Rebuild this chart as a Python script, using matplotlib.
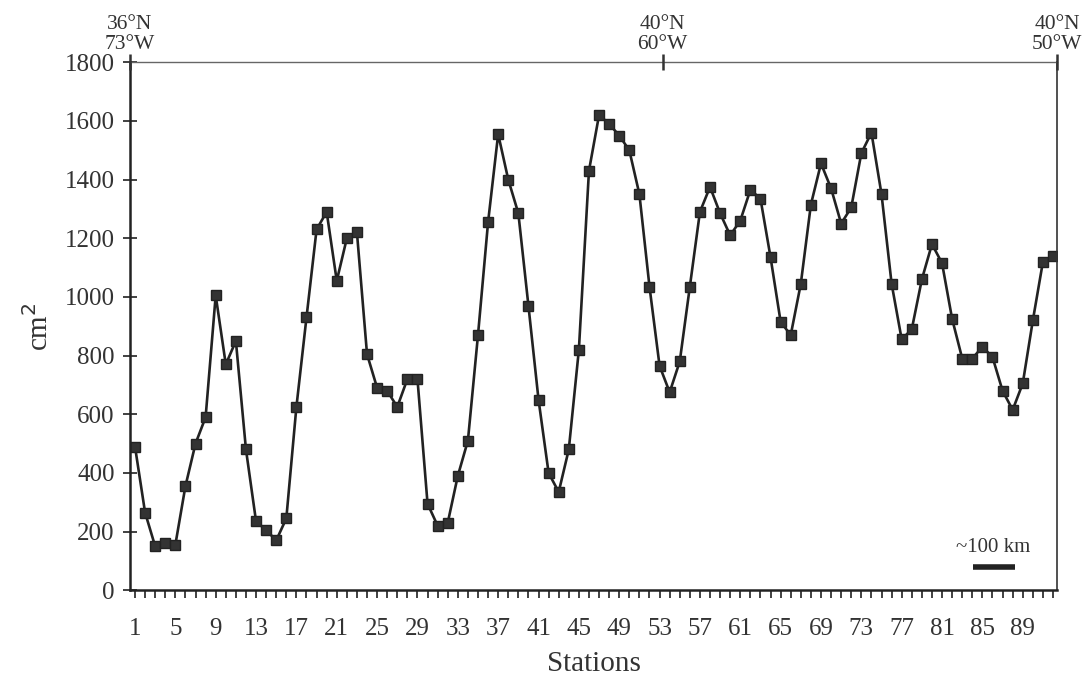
import numpy as np
import matplotlib
import matplotlib.pyplot as plt
matplotlib.use("Agg")

plt.rcParams["font.family"] = ["Liberation Serif", "DejaVu Serif"]

stations = np.arange(1, 93)
cm2 = [490, 265, 150, 160, 155, 355, 500, 590, 1005, 770,
       850, 480, 235, 205, 170, 245, 625, 930, 1230, 1290,
       1055, 1200, 1220, 805, 690, 680, 625, 720, 720, 295,
       220, 230, 390, 510, 870, 1255, 1555, 1400, 1285, 970,
       650, 400, 335, 480, 820, 1430, 1620, 1590, 1550, 1500,
       1350, 1035, 765, 675, 780, 1035, 1290, 1375, 1285, 1210,
       1260, 1365, 1335, 1135, 915, 870, 1045, 1315, 1455, 1370,
       1250, 1305, 1490, 1560, 1350, 1045, 855, 890, 1060, 1180,
       1115, 925, 790, 790, 830, 795, 680, 615, 705, 920,
       1120, 1140]
x_labels = list(range(1, 90, 4))
top_pos = [0.5, 53.3, 92.4]
top_labels = ["36°N\n73°W", "40°N\n60°W", "40°N\n50°W"]

fig = plt.figure(figsize=(10.92, 6.84), dpi=100)
ax = fig.add_axes([0.119, 0.137, 0.849, 0.772])

ax.plot(stations, cm2, color="#222222", lw=1.9, marker="s", ms=7,
        mec="#222222", mfc="#333333")

ax.set_xlim(0.5, 92.4)
ax.set_ylim(0, 1800)
ax.set_yticks(range(0, 1801, 200))
ax.set_xticks(x_labels)
ax.set_xticks(stations, minor=True)
ax.tick_params(axis="x", which="both", direction="out", length=6, width=1.3,
               labelsize=18, pad=14, colors="#333333", labelcolor="#333333")
ax.tick_params(axis="y", direction="inout", length=10, width=1.3, pad=6,
               labelsize=18, colors="#333333", labelcolor="#333333")

for s in ["left", "bottom"]:
    ax.spines[s].set_linewidth(1.8)
    ax.spines[s].set_color("#222222")
ax.spines["top"].set_linewidth(1.0)
ax.spines["top"].set_color("#666666")
ax.spines["right"].set_linewidth(1.2)
ax.spines["right"].set_color("#333333")

ax.set_xlabel("Stations", fontsize=21, color="#333333", labelpad=8)
ax.set_ylabel("cm$^2$", fontsize=21, color="#333333", labelpad=8)

# positions along the section on the upper edge
top = ax.twiny()
top.set_xlim(ax.get_xlim())
top.set_xticks(top_pos)
top.set_xticklabels(top_labels, fontsize=15.5, color="#444444", linespacing=1.05)
top.tick_params(axis="x", direction="inout", length=12, width=1.8, pad=0,
                colors="#333333")
for s in top.spines.values():
    s.set_visible(False)

# scale bar
ax.plot([84.1, 88.2], [78, 78], color="#222222", lw=4, solid_capstyle="butt")
ax.text(86.1, 115, "~100 km", ha="center", va="bottom", fontsize=15,
        color="#333333")

fig.savefig("out.png", dpi=100)
